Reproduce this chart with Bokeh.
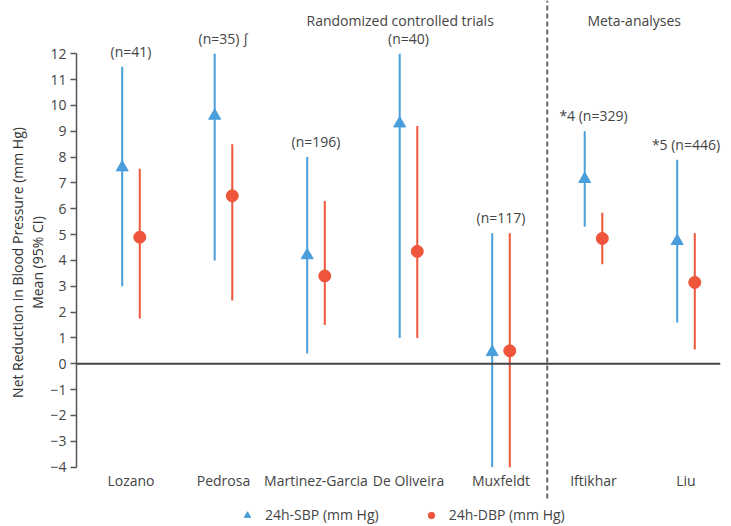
from bokeh.plotting import figure
from bokeh.models import (ColumnDataSource, Range1d, FixedTicker, Span, Label,
                          Legend, LegendItem)
from bokeh.core.properties import value
from bokeh.embed import file_html
from bokeh.resources import INLINE

# ---- data ----
studies = ["Lozano", "Pedrosa", "Martinez-Garcia", "De Oliveira", "Muxfeldt", "Iftikhar", "Liu"]
n_labels = ["(n=41)", "(n=35) \u222b", "(n=196)", "(n=40)", "(n=117)", "*4 (n=329)", "*5 (n=446)"]
sbp_mean = [7.6, 9.6, 4.2, 9.3, 0.45, 7.15, 4.75]
sbp_low = [3.0, 4.0, 0.4, 1.0, -4.0, 5.3, 1.6]
sbp_high = [11.5, 12.0, 8.0, 12.0, 5.05, 9.0, 7.9]
dbp_mean = [4.9, 6.5, 3.4, 4.35, 0.5, 4.85, 3.15]
dbp_low = [1.75, 2.45, 1.5, 1.0, -4.0, 3.85, 0.55]
dbp_high = [7.55, 8.5, 6.3, 9.2, 5.05, 5.85, 5.05]
y_ticks = list(range(-4, 13))
y_title = "Net Reduction in Blood Pressure (mm Hg)\nMean (95% CI)"
group_titles = ["Randomized controlled trials", "Meta-analyses"]

BLUE = "#4a9edb"
RED = "#ee553b"
GREY = "#444444"
FONT = "Open Sans"

idx = list(range(len(studies)))
off = 0.095
src = ColumnDataSource(dict(
    xb=[i - off for i in idx], xr=[i + off for i in idx], xc=idx,
    name=studies, nlab=n_labels,
    sm=sbp_mean, sl=sbp_low, sh=sbp_high,
    dm=dbp_mean, dl=dbp_low, dh=dbp_high,
    top=[max(a, b) for a, b in zip(sbp_high, dbp_high)],
))

p = figure(width=728, height=524,
           x_range=Range1d(-0.589, 6.373), y_range=Range1d(-6.22, 14.06),
           output_backend="svg", toolbar_location=None, x_axis_location=None,
           min_border_left=76, min_border_right=8, min_border_top=0, min_border_bottom=0)
p.outline_line_color = None
p.grid.visible = False
p.background_fill_color = "white"

ax = p.yaxis[0]
ax.ticker = FixedTicker(ticks=y_ticks)
ax.bounds = (-4, 12)
ax.major_tick_out = 6
ax.major_tick_in = 0
ax.minor_tick_line_color = None
ax.axis_line_color = "#555555"
ax.axis_line_width = 1.5
ax.major_tick_line_color = "#555555"
ax.major_tick_line_width = 1.5
ax.major_label_text_font = FONT
ax.major_label_text_font_size = "14px"
ax.major_label_text_color = GREY
ax.major_label_standoff = 4
ax.axis_label = y_title
ax.axis_label_text_font = FONT
ax.axis_label_text_font_size = "14px"
ax.axis_label_text_font_style = "normal"
ax.axis_label_text_color = "#333333"
ax.axis_label_text_line_height = 1.1
ax.axis_label_standoff = 0

p.add_layout(Span(location=0, dimension="width", line_color=GREY, line_width=2))

# separator between groups
p.segment(x0=[4.5], y0=[-5.21], x1=[4.5], y1=[14.06], line_color="#666666",
          line_width=2, line_dash="5 3")

# whiskers
p.segment(x0="xb", y0="sl", x1="xb", y1="sh", source=src, line_color=BLUE, line_width=2)
p.segment(x0="xr", y0="dl", x1="xr", y1="dh", source=src, line_color=RED, line_width=2)
r_s = p.scatter(x="xb", y="sm", source=src, marker="triangle", size=12,
                fill_color=BLUE, line_color=BLUE)
r_d = p.scatter(x="xr", y="dm", source=src, marker="circle", size=12,
                fill_color=RED, line_color=RED)

# n labels
p.text(x="xc", y="top", text="nlab", source=src, text_align="center",
       text_baseline="bottom", y_offset=-6, text_font=value(FONT),
       text_font_size="14px", text_color=GREY)

# category labels
p.text(x="xc", y=value(-4.53), text="name", source=src, text_align="center",
       text_baseline="middle", text_font=value(FONT), text_font_size="14px",
       text_color=GREY)

# group titles
for txt, gx in zip(group_titles, [2.91, 5.44]):
    p.add_layout(Label(x=gx, y=13.29, text=txt, text_align="center",
                       text_baseline="middle", text_font=FONT,
                       text_font_size="14px", text_color=GREY))

legend = Legend(items=[LegendItem(label="24h-SBP (mm Hg)", renderers=[r_s]),
                       LegendItem(label="24h-DBP (mm Hg)", renderers=[r_d])],
                location=(158, 0), orientation="horizontal",
                border_line_color=None, background_fill_alpha=0,
                label_text_font=FONT, label_text_font_size="14px",
                label_text_color=GREY, spacing=39, margin=0, padding=0,
                glyph_width=26, glyph_height=16, label_standoff=5)
p.add_layout(legend)

open("out.html", "w").write(file_html(p, INLINE))
